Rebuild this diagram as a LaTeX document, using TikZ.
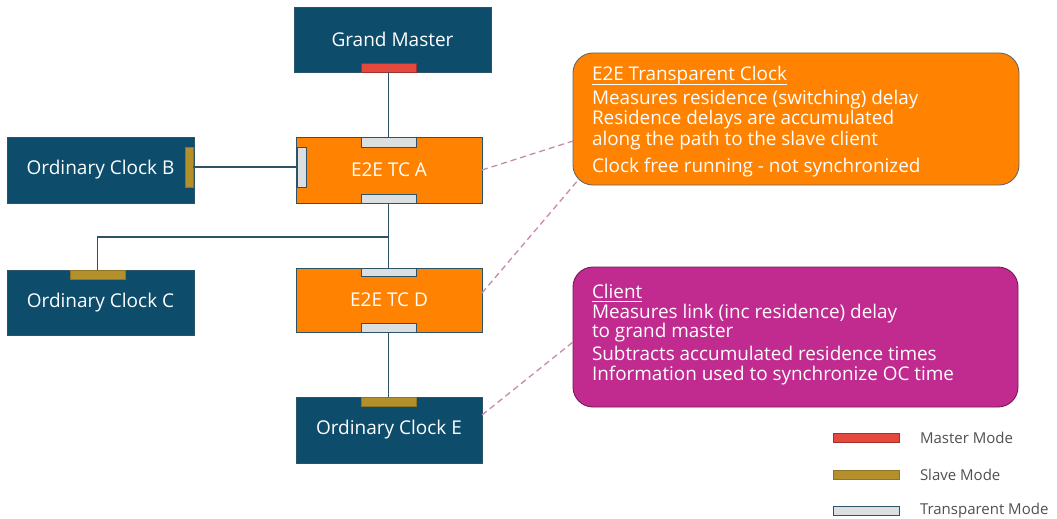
\documentclass[tikz,border=0pt]{standalone}
\usepackage{fontspec}
\setmainfont{Open Sans}
\begin{document}
\begin{tikzpicture}[x=1pt,y=-1pt,
  every node/.style={inner sep=0pt,outer sep=0pt},
  clockbox/.style={rectangle,fill=ocblue,draw=ocedge,line width=0.8pt,text=white,font=\fontsize{19}{22}\selectfont},
  tcbox/.style={rectangle,fill=tcorange,draw=ocedge,line width=0.8pt,text=white,font=\fontsize{19}{22}\selectfont},
  masterport/.style={rectangle,fill=mastered,draw=mastered!70!black,line width=0.5pt},
  slaveport/.style={rectangle,fill=slavegold,draw=slavegold!80!black,line width=0.5pt},
  transport/.style={rectangle,fill=transgray,draw=ocedge,line width=0.8pt},
  link/.style={draw=linkcol,line width=1.1pt},
  callout/.style={draw=dashpink,line width=1.3pt,dash pattern=on 6pt off 4pt},
  infobox/.style={rectangle,rounded corners=20pt,line width=0.9pt},
  infoline/.style={anchor=base west,text=white,font=\fontsize{18.9}{21}\selectfont},
  titlerule/.style={draw=white,line width=1pt},
  legendtext/.style={anchor=west,text=legendgray,font=\fontsize{15}{17}\selectfont}
]
\definecolor{ocblue}{HTML}{0D4C6B}
\definecolor{ocedge}{HTML}{2C5468}
\definecolor{tcorange}{HTML}{FF8200}
\definecolor{mastered}{HTML}{E5483D}
\definecolor{slavegold}{HTML}{B4902C}
\definecolor{transgray}{HTML}{DCDFE0}
\definecolor{linkcol}{HTML}{2E5265}
\definecolor{dashpink}{HTML}{C58AB0}
\definecolor{clientpink}{HTML}{C12B8F}
\definecolor{legendgray}{HTML}{505050}

\useasboundingbox[fill=white] (0,0) rectangle (1057,519);

% clocks and transparent clocks
\node[clockbox,minimum width=197pt,minimum height=65pt] (gm)  at (392.5,39.5) {Grand Master};
\node[tcbox,minimum width=186pt,minimum height=66pt]    (tca) at (389,170)    {E2E TC A};
\node[clockbox,minimum width=187pt,minimum height=66pt] (ocb) at (100.5,170)  {Ordinary Clock B};
\node[clockbox,minimum width=187pt,minimum height=65pt] (occ) at (100.5,302.5){Ordinary Clock C};
\node[tcbox,minimum width=186pt,minimum height=64pt]    (tcd) at (389,300)    {E2E TC D};
\node[clockbox,minimum width=186pt,minimum height=66pt] (oce) at (389,430)    {Ordinary Clock E};

% ports
\node[masterport,minimum width=55pt,minimum height=9pt] (gmp)  at (388.5,67.5) {};
\node[transport,minimum width=55pt,minimum height=10pt] (tcat) at (388.5,142)  {};
\node[transport,minimum width=55pt,minimum height=9pt]  (tcab) at (388.5,198.5){};
\node[transport,minimum width=9pt,minimum height=40pt]  (tcal) at (301.5,167)  {};
\node[slaveport,minimum width=8pt,minimum height=40pt]  (ocbp) at (189,167)    {};
\node[slaveport,minimum width=55pt,minimum height=9pt]  (occp) at (97.5,274.5) {};
\node[transport,minimum width=55pt,minimum height=8pt]  (tcdt) at (388.5,272)  {};
\node[transport,minimum width=55pt,minimum height=9pt]  (tcdb) at (388.5,327.5){};
\node[slaveport,minimum width=55pt,minimum height=9pt]  (ocep) at (388.5,401.5){};

% links
\coordinate (junction) at (388.5,237);
\draw[link] (gmp.south) -- (tcat.north);
\draw[link] (tcab.south) -- (tcdt.north);
\draw[link] (ocbp.east) -- (tcal.west);
\draw[link] (occp.north) |- (junction);
\draw[link] (tcdb.south) -- (ocep.north);

% information boxes
\draw[infobox,fill=tcorange,draw=black!60] (573,53) rectangle (1019,185);
\node[infoline] (e2e1) at (592,81)  {E2E Transparent Clock};
\draw[titlerule] ([yshift=-3pt]e2e1.base west) -- ([yshift=-3pt]e2e1.base east);
\node[infoline] (e2e2) at (592,104) {Measures residence (switching) delay};
\node[infoline] (e2e3) at (592,124) {Residence delays are accumulated};
\node[infoline] (e2e4) at (592,145) {along the path to the slave client};
\node[infoline] (e2e5) at (592,172) {Clock free running - not synchronized};
\coordinate (e2eedge) at (573,141);
\coordinate (e2ecorner) at (579,179);

\draw[infobox,fill=clientpink,draw=clientpink!60!black] (573,267) rectangle (1018,407);
\node[infoline] (cl1) at (592,298) {Client};
\draw[titlerule] ([yshift=-3pt]cl1.base west) -- ([yshift=-3pt]cl1.base east);
\node[infoline] (cl2) at (592,318) {Measures link (inc residence) delay};
\node[infoline] (cl3) at (592,337) {to grand master};
\node[infoline] (cl4) at (592,360) {Subtracts accumulated residence times};
\node[infoline] (cl5) at (592,380) {Information used to synchronize OC time};
\coordinate (clientedge) at (573,342);

% dashed call-outs
\draw[callout] (tca.east) -- (e2eedge);
\draw[callout] ([yshift=7pt]tcd.east) -- (e2ecorner);
\draw[callout] ([yshift=15pt]oce.east) -- (clientedge);

% legend
\node[masterport,minimum width=66pt,minimum height=9pt] (lm) at (866,437.5) {};
\node[slaveport,minimum width=66pt,minimum height=9pt]  (ls) at (866,474.5) {};
\node[transport,minimum width=66pt,minimum height=9pt]  (lt) at (866,510.5) {};
\node[legendtext] (lmt) at (920,437.5) {Master Mode};
\node[legendtext] (lst) at (920,474.5) {Slave Mode};
\node[legendtext] (ltt) at (920,510.5) {Transparent Mode};
\end{tikzpicture}
\end{document}
